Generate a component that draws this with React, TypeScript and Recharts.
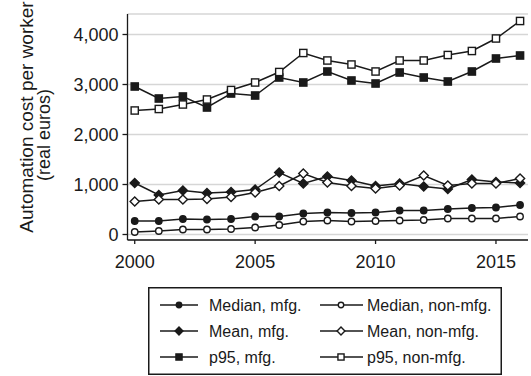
import { LineChart, Line, XAxis, YAxis, CartesianGrid, Legend } from 'recharts';

const years = [2000, 2001, 2002, 2003, 2004, 2005, 2006, 2007, 2008, 2009, 2010, 2011, 2012, 2013, 2014, 2015, 2016];

const medianMfg = [270, 270, 310, 300, 310, 360, 360, 420, 440, 430, 440, 480, 480, 510, 530, 540, 590];
const medianNonMfg = [50, 70, 100, 100, 110, 140, 190, 260, 280, 260, 270, 280, 290, 320, 320, 320, 360];
const meanMfg = [1030, 790, 880, 830, 850, 900, 1240, 1020, 1160, 1080, 970, 1020, 960, 910, 1100, 1050, 1030];
const meanNonMfg = [660, 700, 700, 710, 750, 840, 970, 1220, 1040, 970, 920, 980, 1180, 980, 1020, 1020, 1120];
const p95Mfg = [2960, 2720, 2760, 2540, 2820, 2780, 3140, 3040, 3260, 3080, 3020, 3240, 3140, 3060, 3260, 3520, 3580];
const p95NonMfg = [2480, 2510, 2600, 2700, 2890, 3040, 3250, 3630, 3480, 3400, 3260, 3480, 3480, 3590, 3670, 3920, 4270];

const yTicks = [0, 1000, 2000, 3000, 4000];
const xTicks = [2000, 2005, 2010, 2015];

const data = years.map((year, i) => ({
  year,
  medianMfg: medianMfg[i],
  medianNonMfg: medianNonMfg[i],
  meanMfg: meanMfg[i],
  meanNonMfg: meanNonMfg[i],
  p95Mfg: p95Mfg[i],
  p95NonMfg: p95NonMfg[i],
}));

// legend order: two columns, mfg on the left
const series = [
  { key: 'medianMfg', name: 'Median, mfg.', shape: 'circle', filled: true },
  { key: 'medianNonMfg', name: 'Median, non-mfg.', shape: 'circle', filled: false },
  { key: 'meanMfg', name: 'Mean, mfg.', shape: 'diamond', filled: true },
  { key: 'meanNonMfg', name: 'Mean, non-mfg.', shape: 'diamond', filled: false },
  { key: 'p95Mfg', name: 'p95, mfg.', shape: 'square', filled: true },
  { key: 'p95NonMfg', name: 'p95, non-mfg.', shape: 'square', filled: false },
];

const INK = '#1a1a1a';
const FONT = '"Liberation Sans", Arial, sans-serif';

function Marker({ cx, cy, shape, filled, scale = 1 }: any) {
  const fill = filled ? INK : '#fff';
  if (shape === 'circle') {
    return <circle cx={cx} cy={cy} r={3.2 * scale} fill={fill} stroke={INK} strokeWidth={1.4} />;
  }
  if (shape === 'diamond') {
    const s = 4.6 * scale;
    return (
      <polygon
        points={`${cx},${cy - s} ${cx + s},${cy} ${cx},${cy + s} ${cx - s},${cy}`}
        fill={fill}
        stroke={INK}
        strokeWidth={1.4}
      />
    );
  }
  const h = 3.6 * scale;
  return <rect x={cx - h} y={cy - h} width={h * 2} height={h * 2} fill={fill} stroke={INK} strokeWidth={1.4} />;
}

function LegendBox() {
  return (
    <svg width={354} height={88} style={{ display: 'block' }}>
      <rect x={0.75} y={0.75} width={352.5} height={86.5} fill="#fff" stroke={INK} strokeWidth={1.5} />
      {series.map((s, i) => {
        const col = i % 2;
        const row = Math.floor(i / 2);
        const y = 18 + row * 26;
        const x0 = col === 0 ? 12 : 172;
        const x1 = col === 0 ? 50 : 215;
        const mx = col === 0 ? 31 : 193;
        const tx = col === 0 ? 61 : 219;
        return (
          <g key={s.key}>
            <line x1={x0} y1={y} x2={x1} y2={y} stroke={INK} strokeWidth={1.5} />
            <Marker cx={mx} cy={y} shape={s.shape} filled={s.filled} scale={0.85} />
            <text x={tx} y={y + 6} fontSize={16} fontFamily={FONT} fill={INK}>
              {s.name}
            </text>
          </g>
        );
      })}
    </svg>
  );
}

function AxisTitle() {
  return (
    <g fontFamily={FONT} fontSize={19} fill={INK} textAnchor="middle">
      <text x={33} y={117} transform="rotate(-90 33 117)">Automation cost per worker</text>
      <text x={50} y={135} transform="rotate(-90 50 135)" fontSize={18}>(real euros)</text>
    </g>
  );
}

function YearTick({ x, y, payload }: any) {
  return (
    <text x={x} y={y} dy={13.5} textAnchor="middle" fontSize={18} fontFamily={FONT} fill={INK}>
      {payload.value}
    </text>
  );
}

export default function App() {
  return (
    <div style={{ position: 'absolute', left: 0, top: 0, background: '#fff' }}>
      <LineChart width={531} height={376} data={data} margin={{ top: 14, right: 3, left: 0, bottom: 0 }}>
        <CartesianGrid vertical={false} stroke="#d6d6d6" strokeWidth={1.5} />
        <XAxis
          dataKey="year"
          type="number"
          domain={[1999.7, 2016.33]}
          ticks={xTicks}
          height={48}
          tickSize={4}
          tickMargin={10}
          tick={<YearTick />}
          axisLine={{ stroke: INK, strokeWidth: 1.3 }}
          tickLine={{ stroke: INK, strokeWidth: 1.3 }}
        />
        <YAxis
          domain={[-110, 4410]}
          ticks={yTicks}
          width={127.5}
          tickSize={5}
          tickMargin={4}
          allowDataOverflow
          tickFormatter={(v: number) => v.toLocaleString('en-US')}
          tick={{ fill: INK, fontSize: 18, fontFamily: FONT }}
          axisLine={{ stroke: INK, strokeWidth: 1.3 }}
          tickLine={{ stroke: INK, strokeWidth: 1.3 }}
          label={{ content: () => <AxisTitle /> }}
        />
        <Legend
          content={() => <LegendBox />}
          wrapperStyle={{ position: 'absolute', left: 148, top: 287, width: 354, height: 88 }}
        />
        {series.map((s) => (
          <Line
            key={s.key}
            dataKey={s.key}
            name={s.name}
            type="linear"
            stroke={INK}
            strokeWidth={1.5}
            isAnimationActive={false}
            dot={(props: any) => (
              <Marker
                key={`${s.key}-${props.index}`}
                cx={props.cx}
                cy={props.cy}
                shape={s.shape}
                filled={s.filled}
              />
            )}
            activeDot={false}
          />
        ))}
      </LineChart>
    </div>
  );
}
